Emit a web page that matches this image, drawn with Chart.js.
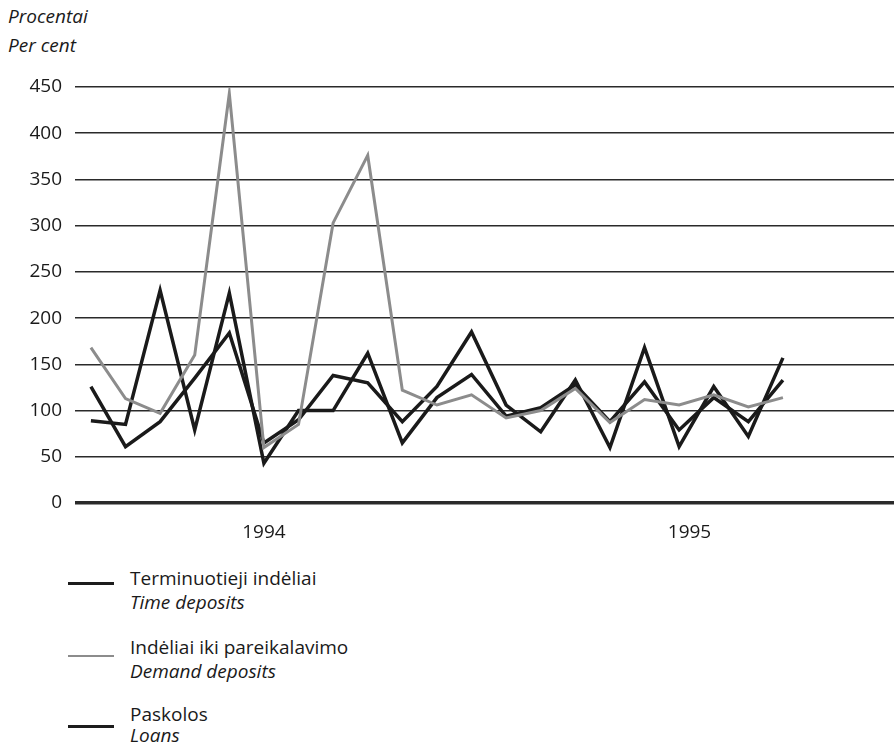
<!DOCTYPE html>
<html>
<head>
<meta charset="utf-8">
<script src="https://cdn.jsdelivr.net/npm/chart.js@4.4.0/dist/chart.umd.min.js"></script>
<style>
  body { margin: 0; background: #fff; font-family: "Open Sans", sans-serif; color: #1a1a1a; }
  #page { position: relative; width: 894px; height: 745px; overflow: hidden; }
  #chartBox { position: absolute; left: 0; top: 0; width: 894px; height: 560px; }
  .txt { position: absolute; font-size: 19px; line-height: 22px; white-space: nowrap; }
  .it { font-style: italic; }
  .key { position: absolute; left: 68px; width: 46px; }
</style>
</head>
<body>
<div id="page">
  <div class="txt it" style="left:8px; top:5px;">Procentai</div>
  <div class="txt it" style="left:8px; top:34px;">Per cent</div>

  <div id="chartBox"><canvas id="lineChart" width="894" height="560"></canvas></div>

  <div class="key" style="top:582px; border-top:3px solid #1c1c1c;"></div>
  <div class="txt" style="left:130px; top:567px;">Terminuotieji indėliai</div>
  <div class="txt it" style="left:130px; top:591px;">Time deposits</div>

  <div class="key" style="top:655px; border-top:2px solid #8c8c8c;"></div>
  <div class="txt" style="left:130px; top:636px;">Indėliai iki pareikalavimo</div>
  <div class="txt it" style="left:130px; top:660px;">Demand deposits</div>

  <div class="key" style="top:725px; border-top:3px solid #1c1c1c;"></div>
  <div class="txt" style="left:130px; top:703px;">Paskolos</div>
  <div class="txt it" style="left:130px; top:724px;">Loans</div>
</div>

<script>
// monthly growth, Jan 1994 - Sep 1995
var months = ['1994-01', '1994-02', '1994-03', '1994-04', '1994-05', '1994-06', '1994-07',
              '1994-08', '1994-09', '1994-10', '1994-11', '1994-12', '1995-01', '1995-02',
              '1995-03', '1995-04', '1995-05', '1995-06', '1995-07', '1995-08', '1995-09'];
var timeDeposits   = [89, 85, 230, 79, 227, 43, 100, 100, 162, 65, 114, 139, 94, 103, 128, 88, 131, 79, 114, 88, 133];
var demandDeposits = [168, 113, 97, 160, 443, 60, 85, 303, 376, 122, 106, 117, 92, 100, 124, 87, 112, 106, 117, 104, 114];
var loans          = [126, 61, 88, 135, 184, 65, 90, 138, 130, 88, 126, 185, 106, 77, 133, 60, 168, 61, 126, 72, 157];
var yearLabels = ['1994', '1995'];
var yearTickAt = [5, 17.3];

function toPoints(values) {
    return values.map((v, i) => ({ x: i, y: v }));
}

var ctxLine = document.getElementById('lineChart').getContext('2d');
var myLineChart = new Chart(ctxLine, {
    type: 'line',
    data: {
        datasets: [{
            label: 'Indėliai iki pareikalavimo',
            data: toPoints(demandDeposits),
            borderColor: '#8c8c8c',
            borderWidth: 3
        }, {
            label: 'Terminuotieji indėliai',
            data: toPoints(timeDeposits),
            borderColor: '#1a1a1a',
            borderWidth: 3.5
        }, {
            label: 'Paskolos',
            data: toPoints(loans),
            borderColor: '#1a1a1a',
            borderWidth: 3.5
        }]
    },
    options: {
        responsive: false,
        animation: false,
        elements: { point: { radius: 0 }, line: { tension: 0, fill: false } },
        layout: { padding: { top: 87, left: 0, right: 0, bottom: 0 } },
        plugins: { legend: { display: false }, tooltip: { enabled: false } },
        scales: {
            x: {
                type: 'linear',
                min: -0.46,
                max: 23.21,
                afterBuildTicks: axis => { axis.ticks = yearTickAt.map(v => ({ value: v })); },
                afterFit: axis => { axis.height = 57; },
                grid: { display: false },
                border: { display: false },
                ticks: {
                    autoSkip: false,
                    maxRotation: 0,
                    padding: 10,
                    color: '#1a1a1a',
                    font: { family: 'Open Sans', size: 19 },
                    callback: (value, index) => yearLabels[index]
                }
            },
            y: {
                min: 0,
                max: 450,
                afterFit: axis => { axis.width = 75; },
                border: { display: false },
                grid: {
                    drawTicks: false,
                    color: '#2a2a2a',
                    lineWidth: ctx => ctx.tick && ctx.tick.value === 0 ? 3.5 : 1.6
                },
                ticks: {
                    stepSize: 50,
                    padding: 13,
                    color: '#1a1a1a',
                    font: { family: 'Open Sans', size: 19 }
                }
            }
        }
    }
});
</script>
</body>
</html>
